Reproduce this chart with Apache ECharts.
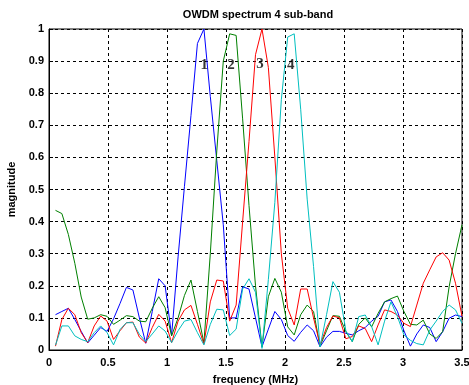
<!DOCTYPE html>
<html><head><meta charset="utf-8">
<script src="https://cdn.jsdelivr.net/npm/echarts@6/dist/echarts.min.js"></script>
<style>html,body{margin:0;padding:0;background:#fff}#c{width:469px;height:385px}</style>
</head><body><div id="c"></div>
<script>
const freq = [0.055,0.109,0.164,0.219,0.273,0.328,0.383,0.438,0.492,0.547,0.602,0.656,0.711,0.766,0.820,0.875,0.930,0.984,1.039,1.094,1.148,1.203,1.258,1.313,1.367,1.422,1.477,1.531,1.586,1.641,1.695,1.750,1.805,1.859,1.914,1.969,2.023,2.078,2.133,2.188,2.242,2.297,2.352,2.406,2.461,2.516,2.570,2.625,2.680,2.734,2.789,2.844,2.898,2.953,3.008,3.063,3.117,3.172,3.227,3.281,3.336,3.391,3.445,3.500];
const band1 = [.110,.120,.130,.095,.058,.022,.046,.070,.058,.097,.145,.195,.187,.100,.021,.120,.222,.200,.045,.290,.510,.730,.955,1.000,.790,.590,.390,.100,.100,.197,.190,.100,.010,.065,.120,.095,.045,.027,.055,.078,.060,.010,.040,.058,.058,.052,.047,.060,.070,.090,.105,.150,.156,.120,.060,.012,.050,.078,.070,.026,.057,.099,.109,.104];
const band2 = [.435,.425,.360,.270,.165,.096,.100,.110,.105,.080,.093,.107,.104,.090,.088,.130,.166,.132,.044,.100,.170,.218,.120,.022,.300,.620,.900,.985,.980,.720,.450,.200,.010,.166,.223,.180,.072,.047,.110,.140,.120,.012,.060,.107,.105,.057,.026,.080,.100,.072,.114,.150,.160,.168,.120,.080,.078,.093,.050,.036,.057,.197,.300,.390];
const band3 = [.012,.095,.130,.110,.054,.023,.075,.106,.090,.033,.060,.085,.087,.040,.022,.070,.111,.090,.023,.090,.125,.139,.080,.018,.150,.218,.215,.090,.140,.400,.650,.920,1.000,.880,.600,.300,.130,.078,.190,.190,.100,.016,.070,.106,.100,.035,.042,.075,.067,.026,.078,.125,.120,.109,.083,.073,.140,.208,.250,.290,.303,.280,.208,.105];
const band4 = [.015,.075,.075,.044,.033,.026,.054,.075,.054,.016,.064,.085,.085,.049,.026,.050,.075,.059,.023,.060,.090,.095,.054,.016,.080,.127,.125,.045,.065,.190,.222,.180,.005,.220,.460,.780,.975,.985,.750,.470,.260,.010,.110,.213,.180,.060,.026,.104,.109,.073,.016,.090,.150,.104,.047,.030,.020,.016,.062,.090,.120,.140,.125,.083];
const bandNames = ['1','2','3','4'];
const labelX = [1.316,1.542,1.788,2.048];
const labelY = [0.888,0.888,0.890,0.888];
const colors = ['#0000ff','#008000','#ff0000','#00bfbf'];
const xTicks = ['0','0.5','1','1.5','2','2.5','3','3.5'];

const chart = echarts.init(document.getElementById('c'), null, {renderer:'canvas'});
const bands = [band1, band2, band3, band4];
const series = bands.map((b, i) => ({
  type: 'line', name: bandNames[i], data: freq.map((f, j) => [f, b[j]]),
  showSymbol: false, symbol: 'none', animation: false,
  lineStyle: {color: colors[i], width: 1}, itemStyle: {color: colors[i]}, z: 2 + i
}));
series.push({
  type: 'scatter', animation: false, symbol: 'rect', symbolSize: 1,
  itemStyle: {color: 'rgba(0,0,0,0)'}, z: 10,
  data: labelX.map((x, i) => ({value: [x, labelY[i]], name: bandNames[i]})),
  label: {show: true, position: 'inside', formatter: p => p.name,
    fontFamily: 'Liberation Serif', fontWeight: 'bold', fontSize: 15, color: '#000'}
});
const fontF = 'Liberation Sans, Arial, sans-serif';
chart.setOption({
  animation: false,
  backgroundColor: '#fff',
  title: {text: 'OWDM spectrum 4 sub-band', left: 253, textAlign: 'center', top: 4,
    textStyle: {fontSize: 11, fontWeight: 'bold', fontFamily: fontF, color: '#000'}},
  grid: {left: 49, right: 7, top: 29, bottom: 35, show: true, borderColor: '#000', borderWidth: 1,
    containLabel: false, outerBoundsMode: 'none'},
  xAxis: {type: 'value', min: 0, max: 3.5, interval: 0.5,
    name: 'frequency (MHz)', nameLocation: 'middle', nameGap: 24,
    nameTextStyle: {fontSize: 11, fontWeight: 'bold', fontFamily: fontF, color: '#000'},
    axisLine: {show: true, lineStyle: {color: '#000', width: 1}},
    axisTick: {show: true, inside: true, length: 4, lineStyle: {color: '#000'}},
    axisLabel: {fontSize: 11, fontWeight: 'bold', fontFamily: fontF, color: '#000', margin: 7,
      formatter: (v) => xTicks[Math.round(v / 0.5)]},
    splitLine: {show: true, lineStyle: {color: '#000', type: [3, 3], width: 1}}},
  yAxis: {type: 'value', min: 0, max: 1, interval: 0.1,
    name: 'magnitude', nameLocation: 'middle', nameGap: 30,
    nameTextStyle: {fontSize: 11, fontWeight: 'bold', fontFamily: fontF, color: '#000'},
    axisLine: {show: true, lineStyle: {color: '#000', width: 1}},
    axisTick: {show: true, inside: true, length: 4, lineStyle: {color: '#000'}},
    axisLabel: {fontSize: 11, fontWeight: 'bold', fontFamily: fontF, color: '#000', margin: 5,
      formatter: (v) => (Math.abs(v - 1) < 1e-9 ? '1' : (Math.abs(v) < 1e-9 ? '0' : v.toFixed(1)))},
    splitLine: {show: true, lineStyle: {color: '#000', type: [3, 3], width: 1}}},
  series: series
});
</script></body></html>
